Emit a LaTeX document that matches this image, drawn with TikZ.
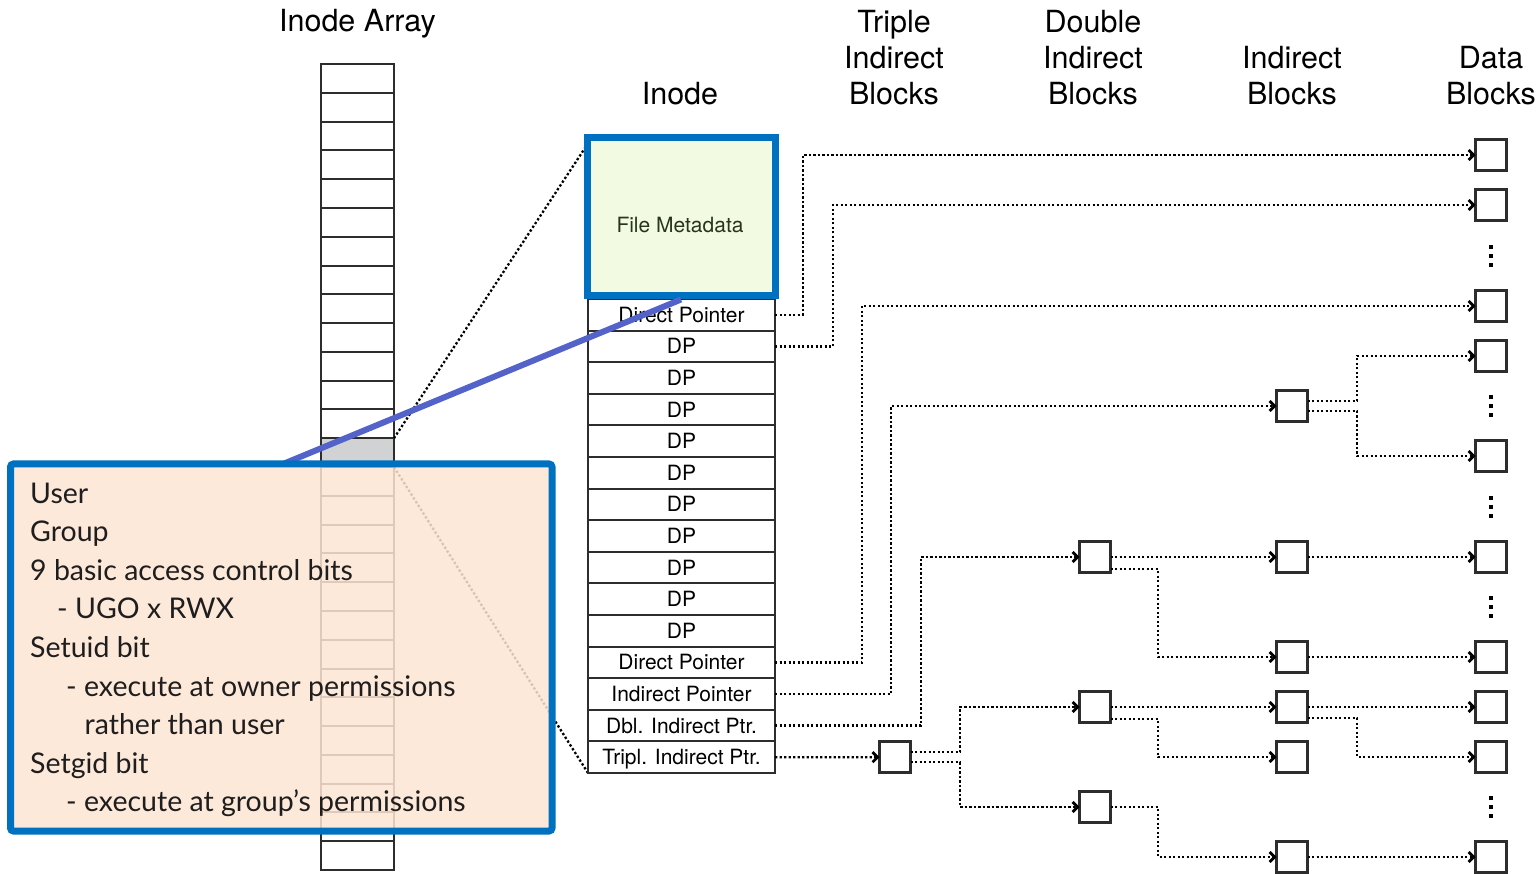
\documentclass[tikz,border=0pt]{standalone}
\usepackage{fontspec}
\setmainfont{TeX Gyre Heros}
\newfontfamily\boxfont{Lato}
\usetikzlibrary{arrows.meta,calc}
\definecolor{boxblue}{RGB}{0,112,192}
\definecolor{peach}{RGB}{253,229,211}
\definecolor{metagreen}{RGB}{242,250,226}
\definecolor{metatext}{RGB}{40,52,30}
\definecolor{lineblue}{RGB}{84,99,201}
\definecolor{cellgray}{RGB}{209,210,212}
\definecolor{arrline}{RGB}{45,45,45}
\definecolor{boxtext}{RGB}{30,30,30}
\begin{document}
\begin{tikzpicture}[x=1pt,y=-1pt,
  arrcell/.style={draw=arrline, line width=2pt, minimum width=73pt, minimum height=28.79pt, inner sep=0pt, outer sep=0pt},
  rowcell/.style={draw=arrline, line width=2pt, minimum width=187pt, minimum height=31.6pt, inner sep=0pt, outer sep=0pt, font=\fontsize{21}{21}\selectfont, text height=15.1pt, text depth=0pt},
  blk/.style={draw=arrline, line width=2.6pt, minimum size=31pt, inner sep=0pt, outer sep=0pt, fill=white},
  dotl/.style={line width=2.3pt, dash pattern=on 2.3pt off 2.2pt},
  conn/.style={dotl, -{Straight Barb[length=5pt,width=10pt,line width=2.8pt]}},
  hdr/.style={font=\fontsize{30.5}{30.5}\selectfont, anchor=base, inner sep=0pt},
  btxt/.style={font=\boxfont\fontsize{28.5}{28.5}\selectfont, anchor=base west, inner sep=0pt, text=boxtext}
]
\path[use as bounding box] (0,0) rectangle (1540,874);

% inode array
\foreach \i in {0,...,27}
  \node[arrcell] (a\i) at (357.5,{78.4+28.786*\i}) {};
\node[arrcell, fill=cellgray] (sel) at (a13) {};

% zoom lines
\draw[dotl] (sel.north east) -- (585,148);
\coordinate (tabbl) at (588,773);
\draw[dotl] (sel.south east) -- (tabbl);

% inode table
\foreach \t [count=\i from 0] in {Direct Pointer,DP,DP,DP,DP,DP,DP,DP,DP,DP,DP,Direct Pointer,Indirect Pointer,Dbl. Indirect Ptr.,Tripl. Indirect Ptr.}
  \node[rowcell] (r\i) at (681.5,{314.8+31.6*\i}) {\t};

\node[draw=boxblue, line width=7pt, fill=metagreen, minimum width=188pt, minimum height=158pt, inner sep=0pt] (meta) at (681,217) {};
\node[font=\fontsize{21}{21}\selectfont, text=metatext, inner sep=0pt] (metat) at (680,225) {File Metadata};

% blocks
\node[blk] (T1) at (895,757.2) {};
\node[blk] (B1) at (1095,557) {};
\node[blk] (B2) at (1095,707) {};
\node[blk] (B3) at (1095,807) {};
\node[blk] (I1) at (1292,406) {};
\node[blk] (I2) at (1292,557) {};
\node[blk] (I3) at (1292,657) {};
\node[blk] (I4) at (1292,707) {};
\node[blk] (I5) at (1292,757) {};
\node[blk] (I6) at (1292,857) {};
\node[blk] (D1) at (1491,155) {};
\node[blk] (D2) at (1491,205) {};
\node[blk] (D3) at (1491,306) {};
\node[blk] (D4) at (1491,356) {};
\node[blk] (D5) at (1491,456) {};
\node[blk] (D6) at (1491,557) {};
\node[blk] (D7) at (1491,657) {};
\node[blk] (D8) at (1491,707) {};
\node[blk] (D9) at (1491,757) {};
\node[blk] (D10) at (1491,857) {};

\foreach \y in {256,406,507,607,807}
  \foreach \d in {-9,0,9}
    \fill (1489.25,{\y+\d-1.75}) rectangle ++(3.5,3.5);

% connectors
\draw[conn] (r0.east) -- ++(28,0) |- (D1);
\draw[conn] (r1.east) -- ++(58,0) |- (D2);
\draw[conn] (r11.east) -- ++(87,0) |- (D3);
\draw[conn] (r12.east) -- ++(116,0) |- (I1);
\draw[conn] (r13.east) -- ++(146,0) |- (B1);
\draw[conn] (r14.east) -- (T1.west);

\draw[conn] ($(T1.east)+(0,-5)$) -- (960,752.2) |- (B2);
\draw[conn] ($(T1.east)+(0,5)$) -- (960,762.2) |- (B3);

\draw[conn] (B1) -- (I2);
\draw[conn] ($(B1.east)+(0,12)$) -- (1158,569) |- (I3);
\draw[conn] (B2) -- (I4);
\draw[conn] ($(B2.east)+(0,12)$) -- (1158,719) |- (I5);
\draw[conn] (B3.east) -- (1158,807) |- (I6);

\draw[conn] ($(I1.east)+(0,-5)$) -- (1357,401) |- (D4);
\draw[conn] ($(I1.east)+(0,5)$) -- (1357,411) |- (D5);
\draw[conn] (I2) -- (D6);
\draw[conn] (I3) -- (D7);
\draw[conn] (I4) -- (D8);
\draw[conn] ($(I4.east)+(0,11)$) -- (1357,718) |- (D9);
\draw[conn] (I6) -- (D10);

% blue zoom line
\coordinate (bstart) at (283,464);
\draw[lineblue, line width=6pt] (bstart) -- (meta.south);

% permissions box
\node[draw=boxblue, line width=7pt, fill=peach, fill opacity=0.85, draw opacity=1, rounded corners=3pt, minimum width=541.5pt, minimum height=367pt, inner sep=0pt] (perm) at (281.25,647.5) {};
\node[btxt] (p1) at (30,503) {User};
\node[btxt] (p2) at (30,541.6) {Group};
\node[btxt] (p3) at (30,580.2) {9 basic access control bits};
\node[btxt] (p4) at (57,618.8) {- UGO x RWX};
\node[btxt] (p5) at (30,657.4) {Setuid bit};
\node[btxt] (p6) at (66,696) {- execute at owner permissions};
\node[btxt] (p7) at (84.5,734.6) {rather than user};
\node[btxt] (p8) at (30,773.2) {Setgid bit};
\node[btxt] (p9) at (66,811.8) {- execute at group’s permissions};

% headers
\node[hdr] (h1) at (357.5,32) {Inode Array};
\node[hdr] (h2) at (680,105) {Inode};
\node[hdr] (h3a) at (894,33) {Triple};
\node[hdr] (h3b) at (894,69) {Indirect};
\node[hdr] (h3c) at (894,105) {Blocks};
\node[hdr] (h4a) at (1093,33) {Double};
\node[hdr] (h4b) at (1093,69) {Indirect};
\node[hdr] (h4c) at (1093,105) {Blocks};
\node[hdr] (h5a) at (1292,69) {Indirect};
\node[hdr] (h5b) at (1292,105) {Blocks};
\node[hdr] (h6a) at (1491,69) {Data};
\node[hdr] (h6b) at (1491,105) {Blocks};
\end{tikzpicture}
\end{document}
